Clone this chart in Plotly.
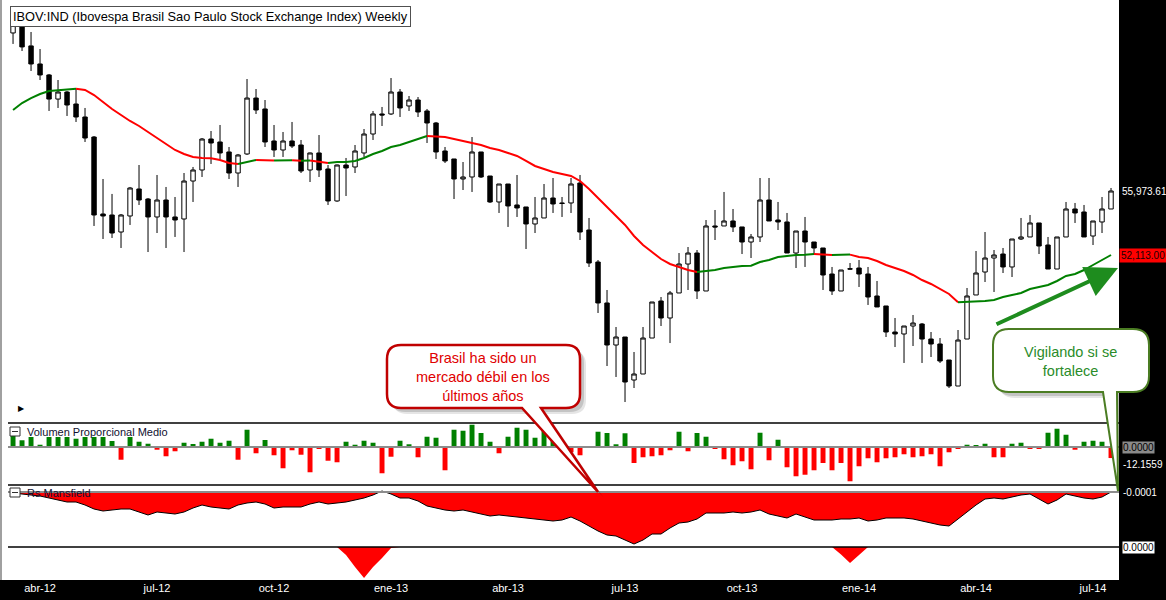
import math
import pandas as pd
import plotly.graph_objects as go

# ---------------- data ----------------
FIRST_WEEK = "2012-03-16"

OPEN = [66777, 67601, 65818, 64503, 63717, 62026, 62516, 61684, 60796, 59452,
        54555, 54494, 53468, 54433, 56099, 55475, 54373, 55414, 54373, 54251,
        56600, 57302, 59320, 59122, 58466, 57110, 58336, 62096, 61342, 59188,
        58596, 59188, 58924, 57302, 58401, 57366, 55353, 57622, 57495, 58401,
        59651, 61001, 61001, 62516, 61548, 61960, 61205, 60390, 58531, 58011,
        56729, 56856, 58466, 56919, 55291, 56412, 55107, 54984, 53950, 54312,
        55537, 55230, 55230, 56475, 53588, 51706, 49394, 47130, 47553, 45323,
        45628, 47499, 49504, 48573, 49949, 51591, 52228, 50060, 53830, 53830,
        54130, 53770, 52875, 53172, 55414, 54190, 54070, 52228, 53528, 52875,
        52522, 51019, 50060, 51320, 51361, 51019, 49781, 49229, 47819, 47713,
        48140, 48248, 47446, 47183, 46347, 45020, 47446, 49838, 51133, 51938,
        52170, 51420, 53052, 53172, 54010, 52698, 51304, 53172, 54860, 54677,
        53230, 54070, 54860]

HIGH = [68208, 68132, 66849, 65590, 63788, 63360, 62586, 62726, 61411, 59518,
        56729, 55790, 54555, 56225, 57622, 55537, 56983, 56225, 55600, 57110,
        57495, 59386, 59852, 60255, 58793, 58336, 63430, 62726, 61960, 60255,
        59786, 60458, 59254, 58430, 59584, 57622, 57650, 58076, 58924, 59986,
        61205, 61479, 63500, 62726, 62238, 62167, 61342, 60458, 58793, 58011,
        57816, 59452, 58466, 56919, 56412, 56412, 56983, 54984, 55600, 56412,
        56792, 55600, 56792, 56983, 54312, 51822, 50116, 48087, 47553, 46763,
        48087, 49449, 49725, 50060, 52228, 52580, 52404, 54190, 54799, 55912,
        54860, 53770, 53350, 56792, 56792, 55291, 54616, 53528, 54373, 52875,
        52522, 51420, 51247, 51648, 51822, 51420, 50622, 49229, 48573, 48140,
        48736, 48301, 47819, 47499, 46347, 47926, 50228, 52346, 53468, 52404,
        52522, 53052, 54312, 54494, 54010, 53172, 53172, 55291, 55230, 55107,
        54130, 55600, 56162]

LOW = [65962, 65446, 64001, 63360, 61205, 61411, 60865, 60458, 59122, 53830,
       53053, 53112, 52522, 53890, 55107, 52286, 53408, 52522, 53172, 52286,
       55291, 56856, 57688, 58011, 56729, 56225, 58271, 61001, 58793, 58141,
       58141, 58727, 57110, 56539, 56856, 55107, 55300, 55662, 57110, 58141,
       59254, 60188, 60933, 60796, 61205, 60796, 59056, 58011, 57752, 55475,
       56036, 55912, 56792, 55230, 54616, 53770, 54373, 52463, 53408, 54312,
       54616, 54373, 54616, 52993, 51420, 48845, 46037, 45476, 44222, 44920,
       45628, 47499, 48140, 47233, 49949, 50116, 49614, 50060, 52993, 53830,
       53468, 52170, 51938, 52875, 54130, 53588, 52228, 51361, 51420, 52112,
       50116, 49838, 50060, 51280, 50284, 49284, 49174, 47553, 47024, 46193,
       47077, 46193, 46502, 46193, 44920, 45020, 47446, 49838, 50565, 50004,
       51076, 50848, 52993, 53172, 52170, 51304, 51304, 53172, 54010, 53172,
       52698, 53408, 54860]

CLOSE = [67751, 65743, 64503, 63717, 62026, 62516, 61615, 60796, 59386, 54494,
         54433, 53408, 54494, 56162, 55414, 54373, 55414, 54373, 54190, 56600,
         57302, 59320, 59056, 58401, 57110, 58271, 62096, 61273, 59122, 58596,
         59188, 58858, 57238, 58401, 57302, 55353, 57622, 57430, 58531, 59651,
         61001, 60933, 62516, 61411, 61960, 61137, 60390, 58466, 57881, 56729,
         56856, 58466, 56856, 55291, 56412, 55046, 54922, 53950, 54312, 55537,
         55168, 55200, 56412, 53468, 51648, 49394, 47130, 47553, 45222, 45628,
         47499, 49449, 48573, 49949, 51591, 52228, 50060, 53830, 53770, 54130,
         53770, 52875, 53172, 55414, 54130, 54070, 52228, 53528, 52875, 52522,
         50962, 50060, 51247, 51300, 51019, 49725, 49174, 47819, 47713, 48140,
         48301, 47446, 47183, 46295, 45020, 47393, 49781, 51076, 51938, 52112,
         51420, 53052, 53172, 54010, 52639, 51304, 53172, 54860, 54616, 53172,
         54130, 54860, 55973.6]

MOVING_AVG = [61273, 61753, 62096, 62376, 62586, 62656, 62690, 62740, 62656, 62306,
              61822, 61342, 60933, 60525, 60188, 59786, 59386, 58990, 58596, 58336,
              58141, 58076, 58060, 57946, 57753, 57688, 57817, 57946, 57930, 57915,
              57925, 57935, 57900, 57910, 57850, 57753, 57817, 57820, 57882, 58076,
              58336, 58531, 58793, 58924, 59122, 59320, 59518, 59500, 59452, 59320,
              59188, 59056, 58924, 58727, 58596, 58401, 58206, 57882, 57559, 57366,
              57174, 57047, 56920, 56602, 56099, 55537, 54983, 54372, 53890, 53230,
              52699, 52287, 51880, 51592, 51420, 51247, 51133, 51190, 51247, 51362,
              51420, 51477, 51490, 51707, 51822, 51996, 52054, 52112, 52125, 52170,
              52150, 52120, 52125, 52135, 51996, 51938, 51765, 51534, 51362, 51190,
              50962, 50678, 50453, 50172, 49893, 49440, 49455, 49470, 49504, 49559,
              49726, 49837, 49948, 50172, 50285, 50397, 50622, 50905, 51019, 51247,
              51534, 51822, 52113]

VOLUME_PROP = [12.4, 7.4, 11.0, 2.5, 11.0, 11.0, 11.0, 9.1, 11.0, 11.0,
               11.0, 6.6, -14.0, 11.0, 5.8, 3.6, -3.0, -10.2, -4.7, 4.7,
               3.3, 5.8, 9.1, 4.7, 6.9, -14.0, 19.0, -6.9, 7.7, -9.1,
               -23.4, -3.6, -8.5, -27.8, -1.4, -15.1, -16.8, 5.8, 2.5, 6.9,
               4.7, -28.9, -10.7, 6.9, 3.0, -11.3, 11.3, 10.2, -25.6, 19.0,
               17.9, 24.5, 15.4, 5.8, -6.9, 11.3, 21.2, 19.0, 10.2, 17.9,
               13.2, 6.6, -5.8, -9.1, 0.5, 16.8, 15.4, 3.0, 15.1, -17.6,
               -11.3, -10.2, -9.1, -3.6, 16.8, -4.7, 15.4, 11.3, -1.9, -13.5,
               -20.1, -15.7, -24.5, 15.7, -14.6, 8.0, -22.3, -32.2, -30.5, -25.6,
               -17.6, -25.6, -17.6, -37.7, -21.2, -12.4, -16.8, -12.4, -11.3, -8.0,
               -11.3, -10.2, -8.0, -21.2, -5.8, -1.9, 2.5, 1.4, 3.6, -11.3,
               -11.3, 3.6, 4.7, -1.9, -1.9, 15.7, 20.1, 13.5, -3.0, 5.8,
               6.9, 5.8, -12.1559]

RS_MANSFIELD = [-0.1, -0.2, -0.3, -0.4, -0.6, -0.8, -1.0, -1.0, -1.3, -1.7,
                -1.9, -1.8, -1.7, -1.7, -2.0, -2.3, -2.0, -2.1, -2.2, -2.0,
                -1.6, -1.3, -1.5, -1.6, -1.7, -1.3, -1.1, -1.0, -1.2, -1.6,
                -1.5, -1.5, -1.5, -1.2, -1.0, -1.2, -1.1, -1.0, -0.8, -0.6,
                -0.3, 0.1, -0.2, -0.6, -0.6, -0.9, -1.4, -1.6, -1.8, -1.9,
                -1.8, -2.0, -2.2, -2.4, -2.3, -2.4, -2.5, -2.6, -2.7, -2.8,
                -2.9, -2.8, -2.5, -2.9, -3.4, -3.9, -4.3, -4.4, -4.8, -5.2,
                -4.8, -4.2, -4.2, -3.6, -3.1, -3.0, -2.7, -2.1, -2.1, -2.1,
                -2.0, -2.1, -2.0, -1.8, -2.2, -2.4, -2.6, -2.2, -2.5, -2.8,
                -2.8, -2.8, -2.7, -2.7, -2.6, -2.9, -2.8, -2.6, -2.6, -2.6,
                -2.7, -2.9, -3.1, -3.3, -3.4, -2.7, -2.0, -1.3, -0.7, -0.6,
                -0.7, -0.5, -0.3, -0.2, -0.7, -1.2, -0.8, -0.2, -0.4, -0.6,
                -0.7, -0.5, -0.0001]

RS_LOWER = [0, 0, 0, 0, 0, 0, 0, 0, 0, 0,
            0, 0, 0, 0, 0, 0, 0, 0, 0, 0,
            0, 0, 0, 0, 0, 0, 0, 0, 0, 0,
            0, 0, 0, 0, 0, 0, 0, -0.8, -2.0, -3.1,
            -2.0, -1.1, -0.1, 0, 0, 0, 0, 0, 0, 0,
            0, 0, 0, 0, 0, 0, 0, 0, 0, 0,
            0, 0, 0, 0, 0, 0, 0, 0, 0, 0,
            0, 0, 0, 0, 0, 0, 0, 0, 0, 0,
            0, 0, 0, 0, 0, 0, 0, 0, 0, 0,
            0, 0, -0.75, -1.6, -0.8, 0, 0, 0, 0, 0,
            0, 0, 0, 0, 0, 0, 0, 0, 0, 0,
            0, 0, 0, 0, 0, 0, 0, 0, 0, 0,
            0, 0, 0]

TICK_DATES = ["2012-04-06", "2012-07-06", "2012-10-05", "2013-01-04", "2013-04-05",
              "2013-07-05", "2013-10-04", "2014-01-03", "2014-04-04", "2014-07-04"]
TICK_TEXT = ["abr-12", "jul-12", "oct-12", "ene-13", "abr-13",
             "jul-13", "oct-13", "ene-14", "abr-14", "jul-14"]

TITLE = "IBOV:IND (Ibovespa Brasil Sao Paulo Stock Exchange Index) Weekly"
LAST_PRICE_LABEL = "55,973.61"
MA_LABEL = "52,113.00"

# ---------------- geometry / style ----------------
W, H = 1166, 600
ML, MR, MT, MB = 8, 47, 0, 20
PW, PH = W - ML - MR, H - MT - MB

def PX(x):
    return (x - ML) / PW

def PY(y):
    return (PH + MT - y) / PH

def P(x, y):
    return f"{PX(x):.5f},{PY(y):.5f}"

DATES = pd.date_range(FIRST_WEEK, periods=len(CLOSE), freq="7D")
GREEN = "#008000"
RED = "#ff0000"
FONT = "Liberation Sans"

fig = go.Figure()

# candles
fig.add_trace(go.Candlestick(
    x=DATES, open=OPEN, high=HIGH, low=LOW, close=CLOSE,
    xaxis="x", yaxis="y",
    increasing=dict(line=dict(color="black", width=1), fillcolor="white"),
    decreasing=dict(line=dict(color="black", width=1), fillcolor="black"),
    whiskerwidth=0, hoverinfo="skip", showlegend=False))

# moving average, green while rising, red while falling
runs = []
for i in range(len(MOVING_AVG) - 1):
    col = GREEN if MOVING_AVG[i + 1] >= MOVING_AVG[i] else RED
    if runs and runs[-1][0] == col:
        runs[-1][1].append(i + 1)
    else:
        runs.append([col, [i, i + 1]])
for col, idx in runs:
    fig.add_trace(go.Scatter(
        x=[DATES[k] for k in idx], y=[MOVING_AVG[k] for k in idx],
        mode="lines", line=dict(color=col, width=2),
        xaxis="x", yaxis="y", hoverinfo="skip", showlegend=False))

# volume panel
fig.add_trace(go.Bar(
    x=DATES, y=VOLUME_PROP,
    marker=dict(color=[GREEN if v >= 0 else RED for v in VOLUME_PROP], line=dict(width=0)),
    xaxis="x", yaxis="y2", hoverinfo="skip", showlegend=False))

# Rs Mansfield panel
fig.add_trace(go.Scatter(
    x=DATES, y=RS_MANSFIELD, mode="lines", fill="tozeroy", fillcolor=RED,
    line=dict(color="black", width=1), xaxis="x", yaxis="y3",
    hoverinfo="skip", showlegend=False))
fig.add_trace(go.Scatter(
    x=DATES, y=RS_LOWER, mode="none", fill="tozeroy", fillcolor=RED,
    xaxis="x", yaxis="y4", hoverinfo="skip", showlegend=False))

# ---------------- shapes ----------------
shapes = []
shapes.append(dict(type="rect", xref="paper", yref="paper", x0=PX(0), x1=0, y0=0, y1=1,
                   fillcolor="white", line=dict(width=0), layer="below"))
shapes.append(dict(type="line", xref="paper", yref="paper", x0=PX(1), x1=PX(1), y0=0, y1=1,
                   line=dict(color="#a0a0a0", width=2)))
for yy in (423, 485, 547):
    shapes.append(dict(type="line", xref="paper", yref="paper", x0=0, x1=1, y0=PY(yy), y1=PY(yy),
                       line=dict(color="black", width=1.5)))
for ax in ("y2", "y3"):
    shapes.append(dict(type="line", xref="paper", yref=ax, x0=0, x1=1, y0=0, y1=0,
                       line=dict(color="#8c8c8c", width=2)))
for (y0, y1) in ((427, 436), (488, 497)):
    shapes.append(dict(type="rect", xref="paper", yref="paper", x0=PX(10), x1=PX(20),
                       y0=PY(y1), y1=PY(y0), line=dict(color="#303030", width=1),
                       fillcolor="white"))
    ym = (y0 + y1) / 2
    shapes.append(dict(type="line", xref="paper", yref="paper", x0=PX(12), x1=PX(18),
                       y0=PY(ym), y1=PY(ym), line=dict(color="#303030", width=1)))


def callout_path(x0, y0, x1, y1, r, b0, b1, tx, ty, d=0):
    x0 += d; x1 += d; y0 += d; y1 += d; b0 += d; b1 += d; tx += d; ty += d
    return (f"M{P(x0 + r, y0)} L{P(x1 - r, y0)} Q{P(x1, y0)} {P(x1, y0 + r)} "
            f"L{P(x1, y1 - r)} Q{P(x1, y1)} {P(x1 - r, y1)} L{P(b1, y1)} L{P(tx, ty)} "
            f"L{P(b0, y1)} L{P(x0 + r, y1)} Q{P(x0, y1)} {P(x0, y1 - r)} "
            f"L{P(x0, y0 + r)} Q{P(x0, y0)} {P(x0 + r, y0)} Z")

callouts = [
    ((387, 345, 580, 408, 14, 522, 541, 598, 492), "#c00000", 2.5),
    ((993, 329, 1149, 392, 16, 1103, 1117, 1118, 491), "#4b7d23", 2),
]
for geo, bcol, bw in callouts:
    for d, a in ((6, 0.10), (4, 0.14)):
        shapes.append(dict(type="path", xref="paper", yref="paper",
                           path=callout_path(*geo, d=d),
                           fillcolor=f"rgba(0,0,0,{a})", line=dict(width=0)))
    shapes.append(dict(type="path", xref="paper", yref="paper",
                       path=callout_path(*geo), fillcolor="white",
                       line=dict(color=bcol, width=bw)))

# ---------------- annotations ----------------
ann = []
ann.append(dict(xref="paper", yref="paper", x=PX(10), y=PY(6), xanchor="left", yanchor="top",
                text=TITLE, showarrow=False, bgcolor="white", bordercolor="#505050",
                borderwidth=1, borderpad=2, font=dict(family=FONT, size=12.8, color="black")))
ann.append(dict(xref="paper", yref="paper", x=PX(25), y=PY(432), xanchor="left", yanchor="middle",
                text="Volumen Proporcional Medio", showarrow=False,
                font=dict(family=FONT, size=11, color="#101030")))
ann.append(dict(xref="paper", yref="paper", x=PX(25), y=PY(493), xanchor="left", yanchor="middle",
                text="Rs Mansfield", showarrow=False,
                font=dict(family=FONT, size=11, color="#101030")))
ann.append(dict(xref="paper", yref="paper", x=PX(21), y=PY(408), xanchor="center", yanchor="middle",
                text="▶", showarrow=False, font=dict(family="DejaVu Sans", size=8, color="black")))

# right-hand scale labels
RFONT = dict(family=FONT, size=10)
ann.append(dict(xref="paper", yref="y", x=PX(1121), y=math.log10(CLOSE[-1]), xanchor="left",
                yanchor="middle", text=LAST_PRICE_LABEL, showarrow=False, borderpad=0,
                font=dict(RFONT, color="white")))
ann.append(dict(xref="paper", yref="y", x=PX(1119), y=math.log10(MOVING_AVG[-1]), xanchor="left",
                yanchor="middle", text=MA_LABEL, showarrow=False, borderpad=1,
                bgcolor=RED, font=dict(RFONT, color="#200000")))
ann.append(dict(xref="paper", yref="y2", x=PX(1122), y=0, xanchor="left", yanchor="middle",
                text="0.0000", showarrow=False, borderpad=0, bgcolor="#8a8a8a",
                font=dict(RFONT, color="black")))
ann.append(dict(xref="paper", yref="y2", x=PX(1122), y=VOLUME_PROP[-1], xanchor="left",
                yanchor="top", text=f"{VOLUME_PROP[-1]:.4f}", showarrow=False, borderpad=0,
                font=dict(RFONT, color="white")))
ann.append(dict(xref="paper", yref="y3", x=PX(1122), y=0, xanchor="left", yanchor="middle",
                text=f"{RS_MANSFIELD[-1]:.4f}", showarrow=False, borderpad=0,
                font=dict(RFONT, color="white")))
ann.append(dict(xref="paper", yref="y4", x=PX(1122), y=0, xanchor="left", yanchor="middle",
                text="0.0000", showarrow=False, borderpad=0, bgcolor="white",
                font=dict(RFONT, color="black")))

# callout texts
ann.append(dict(xref="paper", yref="paper", x=PX(483), y=PY(377), xanchor="center",
                yanchor="middle", align="center", showarrow=False,
                text="Brasil ha sido un<br>mercado débil en los<br>últimos años",
                font=dict(family=FONT, size=14.5, color="#e00000")))
ann.append(dict(xref="paper", yref="paper", x=PX(1070), y=PY(361), xanchor="center",
                yanchor="middle", align="center", showarrow=False,
                text="Vigilando si se<br>fortalece",
                font=dict(family=FONT, size=14.5, color="#2a8c2a")))
# green arrow
ann.append(dict(xref="paper", yref="paper", x=PX(1118), y=PY(268), ax=-123, ay=57,
                text="", showarrow=True, arrowhead=2, arrowsize=1.6, arrowwidth=4,
                arrowcolor="#1e8c1e", standoff=0))

fig.update_layout(
    width=W, height=H, autosize=False,
    margin=dict(l=ML, r=MR, t=MT, b=MB, pad=0),
    paper_bgcolor="black", plot_bgcolor="white",
    showlegend=False, bargap=0.45, hovermode=False,
    xaxis=dict(domain=[0, 1], anchor="y4", type="date",
               range=["2012-03-12 02:00", "2014-07-24 05:00"],
               tickvals=TICK_DATES, ticktext=TICK_TEXT, ticks="",
               tickfont=dict(family=FONT, size=11, color="white"),
               showgrid=False, zeroline=False, showline=False,
               rangeslider=dict(visible=False)),
    yaxis=dict(domain=[PY(423), 1], type="log", range=[4.63547, 4.84061], anchor="x",
               showticklabels=False, showgrid=False, zeroline=False),
    yaxis2=dict(domain=[PY(485), PY(423)], range=[-41.8, 26.4], anchor="x",
                showticklabels=False, showgrid=False, zeroline=False),
    yaxis3=dict(domain=[PY(547), PY(485)], range=[-5.5, 0.7], anchor="x",
                showticklabels=False, showgrid=False, zeroline=False),
    yaxis4=dict(domain=[0, PY(547)], range=[-3.3, 0], anchor="x",
                showticklabels=False, showgrid=False, zeroline=False),
    shapes=shapes, annotations=ann,
)

fig.write_html("out.html", config={"displayModeBar": False},
               post_script="document.body.style.margin='0';document.body.style.overflow='hidden';")
